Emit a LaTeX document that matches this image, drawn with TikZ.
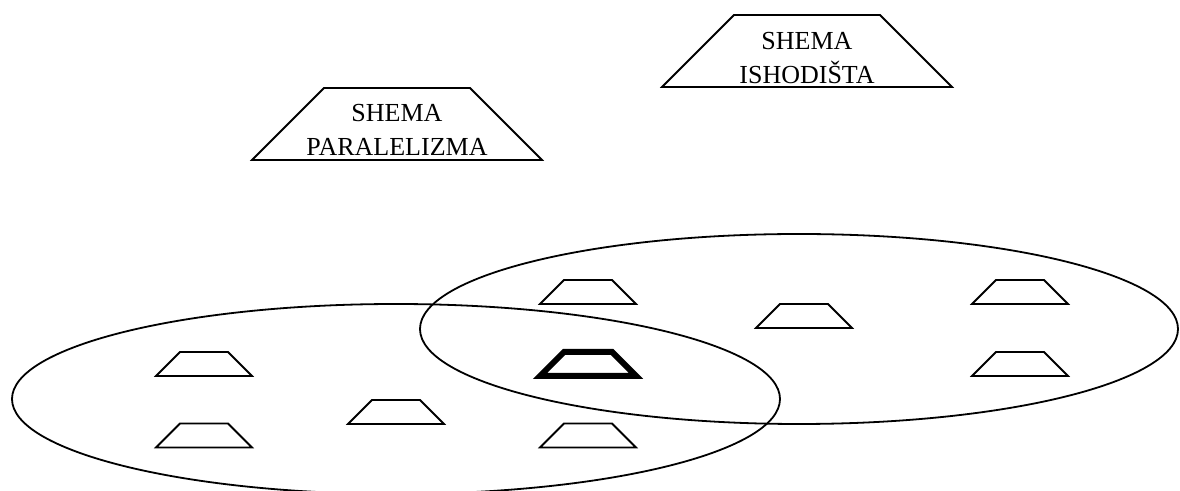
\documentclass[tikz,border=0pt]{standalone}
\usepackage{fontspec}
\setmainfont{Liberation Serif}
\usetikzlibrary{shapes.geometric}
\tikzset{
  shema/.style={trapezium, trapezium angle=45, draw, inner xsep=12pt, inner ysep=6pt},
  bigshema/.style={shema, inner xsep=36.5pt, inner ysep=18pt},
  boldshema/.style={shema, line width=3pt},
  shematext/.style={align=center, font=\fontsize{13}{17}\selectfont},
}
\begin{document}
\begin{tikzpicture}[x=0.5pt, y=-0.5pt, line width=0.9pt]
            \useasboundingbox (0,0) rectangle (1180,491);
            % the two fields
            \draw (396,399) ellipse [x radius=192pt, y radius=47.5pt];
            \draw (799,329) ellipse [x radius=189.5pt, y radius=47.5pt];
            % small schemes
            \foreach \k/\x/\y in {1/204/364, 2/204/435.5, 3/396/412, 4/588/435.5,
                                  5/588/292, 6/804/316, 7/1020/292, 8/1020/364} {
                \node[shema] (s\k) at (\x,\y) {};
            }
            \node[boldshema] (s0) at (588,364) {};
            % labelled schemes
            \node[bigshema] (paralelizam) at (397,124) {};
            \node[shematext] (paralelizam tekst) at (397,130) {SHEMA\\PARALELIZMA};
            \node[bigshema] (ishodiste) at (807,51) {};
            \node[shematext] (ishodiste tekst) at (807,58) {SHEMA\\ISHODIŠTA};
        \end{tikzpicture}
\end{document}
